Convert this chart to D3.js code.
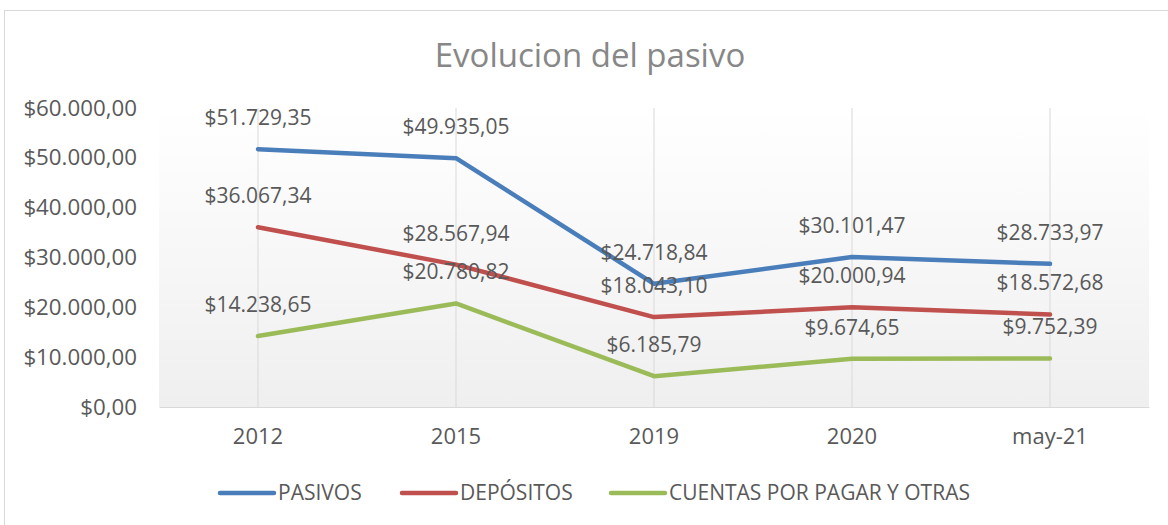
<!DOCTYPE html>
<html>
<head>
<meta charset="utf-8">
<script src="https://cdn.jsdelivr.net/npm/d3@7"></script>
<style>
  body { margin: 0; background: #fff; }
  svg { display: block; font-family: "Open Sans", sans-serif; }
</style>
</head>
<body>
<svg id="chart"></svg>
<script>
// Chart data
const categories = ['2012', '2015', '2019', '2020', 'may-21'];
const pasivos = [51729.35, 49935.05, 24718.84, 30101.47, 28733.97];
const depositos = [36067.34, 28567.94, 18043.10, 20000.94, 18572.68];
const cuentas = [14238.65, 20780.82, 6185.79, 9674.65, 9752.39];
const yTicks = [0, 10000, 20000, 30000, 40000, 50000, 60000];

const seriesList = [
  { name: 'PASIVOS', values: pasivos, color: '#4a7ebb' },
  { name: 'DEPÓSITOS', values: depositos, color: '#c0504d' },
  { name: 'CUENTAS POR PAGAR Y OTRAS', values: cuentas, color: '#9bbb59' }
];

const width = 1168, height = 525;
const margin = { top: 108, right: 19, bottom: 118, left: 159 };
const innerW = width - margin.left - margin.right;
const innerH = height - margin.top - margin.bottom;

const locale = d3.formatLocale({ decimal: ',', thousands: '.', grouping: [3], currency: ['$', ''] });
const fmt = locale.format('$,.2f');
const textColor = '#595959';

const svg = d3.select('#chart').attr('width', width).attr('height', height);

// outer chart border
svg.append('rect')
    .attr('x', 4.5).attr('y', 10.5)
    .attr('width', width + 10).attr('height', height + 10)
    .attr('fill', '#fff').attr('stroke', '#d9d9d9');

// plot area gradient
const grad = svg.append('defs').append('linearGradient')
    .attr('id', 'plotGrad').attr('x1', 0).attr('y1', 0).attr('x2', 0).attr('y2', 1);
grad.append('stop').attr('offset', '0%').attr('stop-color', '#ffffff');
grad.append('stop').attr('offset', '100%').attr('stop-color', '#efefef');

const chart = svg.append('g').attr('transform', `translate(${margin.left},${margin.top})`);

chart.append('rect')
    .attr('width', innerW).attr('height', innerH)
    .attr('fill', 'url(#plotGrad)');

// Scales
const xScale = d3.scaleBand().domain(categories).range([0, innerW]);
const xPos = d => xScale(d) + xScale.bandwidth() / 2;
const yScale = d3.scaleLinear().domain([0, 60000]).range([innerH, 0]);

// Vertical gridlines
chart.append('g')
    .selectAll('line')
    .data(categories)
    .join('line')
    .attr('x1', d => xPos(d)).attr('x2', d => xPos(d))
    .attr('y1', 0).attr('y2', innerH)
    .attr('stroke', '#d9d9d9').attr('stroke-width', 1);

// x axis
const xAxisG = chart.append('g')
    .attr('transform', `translate(0,${innerH})`)
    .call(d3.axisBottom(xScale).tickSize(0).tickPadding(21));
xAxisG.select('.domain').attr('stroke', '#d9d9d9');
xAxisG.selectAll('text')
    .attr('fill', textColor).style('font-size', '22px')
    .style('font-family', '"Open Sans", sans-serif');

// y axis
const yAxisG = chart.append('g')
    .call(d3.axisLeft(yScale).tickValues(yTicks).tickSize(0).tickPadding(22).tickFormat(fmt));
yAxisG.select('.domain').remove();
yAxisG.selectAll('text')
    .attr('fill', textColor).style('font-size', '22.3px')
    .style('font-family', '"Open Sans", sans-serif');

// Lines
const line = d3.line()
    .x((d, i) => xPos(categories[i]))
    .y(d => yScale(d));

chart.selectAll('.series')
    .data(seriesList)
    .join('path')
    .attr('class', 'series')
    .attr('d', d => line(d.values))
    .attr('fill', 'none')
    .attr('stroke', d => d.color)
    .attr('stroke-width', 4.5)
    .attr('stroke-linejoin', 'round')
    .attr('stroke-linecap', 'round');

// Data labels
seriesList.forEach(s => {
  chart.append('g')
      .selectAll('text')
      .data(s.values)
      .join('text')
      .attr('x', (d, i) => xPos(categories[i]))
      .attr('y', d => yScale(d) - 24)
      .attr('text-anchor', 'middle')
      .attr('fill', textColor)
      .style('font-size', '21px')
      .text(d => fmt(d));
});

// Title
svg.append('text')
    .attr('x', 590).attr('y', 67)
    .attr('text-anchor', 'middle')
    .attr('fill', '#878787')
    .style('font-size', '33px')
    .text('Evolucion del pasivo');

// Legend
const legendX = [220, 402, 611];
const legend = svg.append('g').attr('transform', 'translate(0,493)');
const items = legend.selectAll('g')
    .data(seriesList)
    .join('g')
    .attr('transform', (d, i) => `translate(${legendX[i]},0)`);
items.append('line')
    .attr('x1', 0).attr('x2', 54)
    .attr('stroke', d => d.color)
    .attr('stroke-width', 4.5)
    .attr('stroke-linecap', 'round');
items.append('text')
    .attr('x', 58).attr('y', 7)
    .attr('fill', textColor)
    .style('font-size', '21px')
    .text(d => d.name);
</script>
</body>
</html>
